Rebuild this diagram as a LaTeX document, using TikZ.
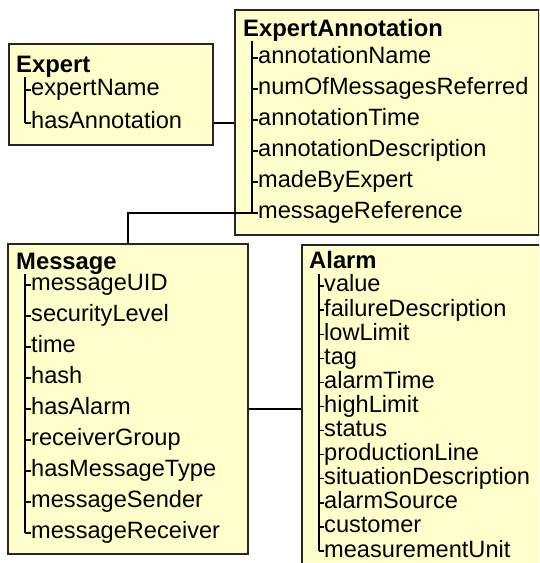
\documentclass[tikz,border=0pt]{standalone}
\usepackage{fontspec}
\setmainfont{Liberation Sans}
\usepackage{tikz}
\definecolor{boxfill}{RGB}{255,255,204}
\tikzset{
  entity/.style={draw=black!85, line width=1.6pt, fill=boxfill, anchor=north west, inner sep=0pt},
  title/.style={anchor=base west, inner sep=0pt, font=\fontsize{23.8}{28}\selectfont\bfseries},
  attr/.style={anchor=west, inner sep=0pt, text height=16.8pt, text depth=4.9pt, font=\fontsize{23.6}{28}\selectfont},
  tree/.style={line width=1.3pt},
  link/.style={line width=1.5pt},
}

\begin{document}
\begin{tikzpicture}[x=1pt,y=-1pt]
      \clip (0,0) rectangle (539,563);
      % boxes
      \node[entity, minimum width=204pt, minimum height=101pt] (expert) at (8,43) {};
      \node[entity, minimum width=304pt, minimum height=225pt] (annot) at (234,9) {};
      \node[entity, minimum width=240pt, minimum height=310pt] (message) at (7,243) {};
      \node[entity, minimum width=270pt, minimum height=340pt] (alarm) at (301,244) {};
      % Expert
      \node[title] (expert-title) at (16,72) {Expert};
      \coordinate (expert-tree) at (25,77);
      \foreach \name [count=\i] in {expertName,hasAnnotation} {
        \node[attr] (expert-\i) at (31,{90+33*(\i-1)}) {\name};
        \draw[tree] (expert-tree |- expert-\i.west) -- ++(6,0);
      }
      \draw[tree] (expert-tree) -- (expert-tree |- expert-2.west);
      % ExpertAnnotation
      \node[title] (annot-title) at (243,36) {ExpertAnnotation};
      \coordinate (annot-tree) at (252,41);
      \foreach \name [count=\i] in {annotationName,numOfMessagesReferred,annotationTime,annotationDescription,madeByExpert,messageReference} {
        \node[attr] (annot-\i) at (258,{58+31*(\i-1)}) {\name};
        \draw[tree] (annot-tree |- annot-\i.west) -- ++(6,0);
      }
      \draw[tree] (annot-tree) -- (annot-tree |- annot-6.west);
      % Message
      \node[title] (msg-title) at (16,269) {Message};
      \coordinate (msg-tree) at (25,274);
      \foreach \name [count=\i] in {messageUID,securityLevel,time,hash,hasAlarm,receiverGroup,hasMessageType,messageSender,messageReceiver} {
        \node[attr] (msg-\i) at (31,{285+31*(\i-1)}) {\name};
        \draw[tree] (msg-tree |- msg-\i.west) -- ++(6,0);
      }
      \draw[tree] (msg-tree) -- (msg-tree |- msg-9.west);
      % Alarm
      \node[title] (alarm-title) at (309,268.5) {Alarm};
      \coordinate (alarm-tree) at (319,274);
      \foreach \name [count=\i] in {value,failureDescription,lowLimit,tag,alarmTime,highLimit,status,productionLine,situationDescription,alarmSource,customer,measurementUnit} {
        \node[attr] (alarm-\i) at (324,{286+24.1*(\i-1)}) {\name};
        \draw[tree] (alarm-tree |- alarm-\i.west) -- ++(5,0);
      }
      \draw[tree] (alarm-tree) -- (alarm-tree |- alarm-12.west);
      % links
      \draw[link] (expert-2 -| expert.east) -- (expert-2 -| annot.west);
      \draw[link] (annot-tree |- annot-6.west) -| (message.north);
      \draw[link] (msg-5 -| message.east) -- (msg-5 -| alarm.west);
\end{tikzpicture}
\end{document}
